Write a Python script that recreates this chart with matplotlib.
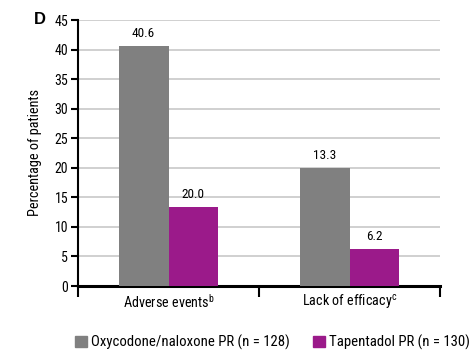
import matplotlib
matplotlib.use("Agg")
import matplotlib.pyplot as plt
import numpy as np
from matplotlib.patches import Patch

FONT = 'Roboto Condensed'
plt.rcParams['font.family'] = [FONT, 'DejaVu Sans']
plt.rcParams['mathtext.fontset'] = 'custom'
plt.rcParams['mathtext.rm'] = FONT

categories = ["Adverse events$^{\\mathrm{b}}$", "Lack of efficacy$^{\\mathrm{c}}$"]
series_names = ["Oxycodone/naloxone PR (n = 128)", "Tapentadol PR (n = 130)"]
oxy_values = [40.6, 20.0]
tap_values = [13.3, 6.2]
oxy_labels = ["40.6", "13.3"]
tap_labels = ["20.0", "6.2"]
colors = ["#808080", "#9b1a8a"]

fig = plt.figure(figsize=(4.69, 3.61), dpi=100)
ax = fig.add_axes([78/469, 1-286/361, (440-78)/469, (286-20)/361])

x = np.arange(len(categories))
w = 0.275
b1 = ax.bar(x - w/2, oxy_values, w, color=colors[0], zorder=3)
b2 = ax.bar(x + w/2, tap_values, w, color=colors[1], zorder=3)
for bars, labs in ((b1, oxy_labels), (b2, tap_labels)):
    for b, t in zip(bars, labs):
        ax.annotate(t, (b.get_x() + b.get_width()/2, b.get_height()),
                    xytext=(0, 6.5), textcoords='offset points',
                    ha='center', va='baseline', fontsize=9.5)

ax.set_xlim(-0.5, 1.5)
ax.set_ylim(0, 45)
ax.set_yticks(np.arange(0, 46, 5))
ax.yaxis.grid(True, color='#c8c8c8', linewidth=1.2, zorder=0)
ax.set_axisbelow(True)
ax.set_xticks([-0.5, 0.5, 1.5])
ax.set_xticklabels([])
ax.set_xticks(x, minor=True)
ax.set_xticklabels(categories, minor=True, fontsize=10.2)
ax.tick_params(axis='x', which='major', length=8, width=1.5, direction='out')
ax.tick_params(axis='x', which='minor', length=0, pad=5)
ax.tick_params(axis='y', length=5, width=1.5, labelsize=10, pad=2)
for s in ['top', 'right']:
    ax.spines[s].set_visible(False)
ax.spines['left'].set_linewidth(1.5)
ax.spines['bottom'].set_linewidth(2.2)
ax.set_ylabel("Percentage of patients", fontsize=10.3, labelpad=9)

fig.text(40/469, 1-20/361, "D", fontsize=12, fontweight='bold',
         family=['Liberation Sans', 'DejaVu Sans'], ha='center', va='center')

handles = [Patch(color=c) for c in colors]
fig.legend(handles, series_names, loc='center left', bbox_to_anchor=(75/469, 1-342/361),
           ncol=2, frameon=False, fontsize=10.6, handlelength=0.8, handleheight=0.8,
           columnspacing=1.55, handletextpad=0.3, borderpad=0, borderaxespad=0)

fig.savefig("out.png", dpi=100)
